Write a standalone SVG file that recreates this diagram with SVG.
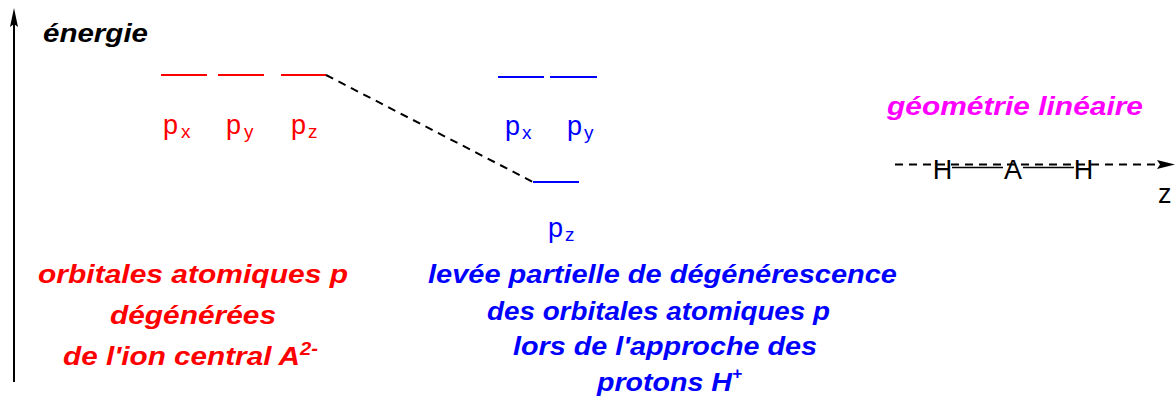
<svg xmlns="http://www.w3.org/2000/svg" width="1176" height="398" viewBox="0 0 1176 398">
<style>
.b{font-family:"Liberation Sans",Arial,sans-serif;font-weight:bold;font-style:italic;font-size:26.5px}
.r{font-family:"Liberation Sans",Arial,sans-serif;font-size:27px}
.red{fill:#ff0000}
.blue{fill:#0000ff}
.lvlR{stroke:#ff0000;stroke-width:2}
.lvlB{stroke:#0000ff;stroke-width:2}
.dash{stroke:#000;stroke-width:2;stroke-dasharray:8 6;fill:none}
</style>
<rect width="1176" height="398" fill="#fff"/>
<g id="axis">
<line x1="14" y1="382" x2="14" y2="22" stroke="#000" stroke-width="2"/>
<polygon points="14,8 10,27 14,24 18,27" fill="#000"/>
<text class="b" x="43" y="42" textLength="105" lengthAdjust="spacingAndGlyphs" fill="#000">énergie</text>
</g>
<g id="levels-A">
<line class="lvlR" x1="161" y1="75" x2="207" y2="75"/>
<line class="lvlR" x1="218" y1="75" x2="264" y2="75"/>
<line class="lvlR" x1="281" y1="75" x2="326" y2="75"/>
<text class="r red" x="163" y="134">p<tspan x="181" y="138" font-size="19">x</tspan></text>
<text class="r red" x="226" y="134">p<tspan x="244" y="138" font-size="19">y</tspan></text>
<text class="r red" x="291" y="134">p<tspan x="308" y="138" font-size="19">z</tspan></text>
</g>
<g id="levels-AH2">
<line class="lvlB" x1="498" y1="77" x2="544" y2="77"/>
<line class="lvlB" x1="550" y1="77" x2="597" y2="77"/>
<line class="lvlB" x1="533" y1="182" x2="579" y2="182"/>
<text class="r blue" x="505" y="135">p<tspan x="522" y="139" font-size="19">x</tspan></text>
<text class="r blue" x="567" y="135">p<tspan x="584" y="139" font-size="19">y</tspan></text>
<text class="r blue" x="548" y="237">p<tspan x="565" y="241" font-size="19">z</tspan></text>
</g>
<g id="connectors">
<line class="dash" x1="326" y1="75" x2="533" y2="182"/>
</g>
<g id="geometry">
<text class="b" x="887" y="115" textLength="256" lengthAdjust="spacingAndGlyphs" fill="#ff00ff">géométrie linéaire</text>
<line class="dash" x1="895" y1="164.5" x2="1162" y2="164.5" stroke-dasharray="6 6"/>
<polygon points="1175,164.5 1157,160 1160,164.5 1157,169" fill="#000"/>
<line x1="952" y1="167.5" x2="1003" y2="167.5" stroke="#000" stroke-width="1.5"/>
<line x1="1023" y1="167.5" x2="1074" y2="167.5" stroke="#000" stroke-width="1.5"/>
<text class="r" x="942.5" y="179" text-anchor="middle" fill="#000">H</text>
<text class="r" x="1013" y="179" text-anchor="middle" fill="#000">A</text>
<text class="r" x="1083.5" y="179" text-anchor="middle" fill="#000">H</text>
<text class="r" x="1158" y="203" font-size="26" fill="#000">z</text>
</g>
<g id="caption-A">
<text class="b red" x="38" y="283" textLength="310" lengthAdjust="spacingAndGlyphs">orbitales atomiques p</text>
<text class="b red" x="110" y="324" textLength="166" lengthAdjust="spacingAndGlyphs">dégénérées</text>
<text class="b red" x="63" y="365" textLength="255" lengthAdjust="spacingAndGlyphs">de l'ion central A<tspan dy="-10" font-size="18px">2-</tspan></text>
</g>
<g id="caption-AH2">
<text class="b blue" x="428" y="283" textLength="469" lengthAdjust="spacingAndGlyphs">levée partielle de dégénérescence</text>
<text class="b blue" x="487" y="320" textLength="343" lengthAdjust="spacingAndGlyphs">des orbitales atomiques p</text>
<text class="b blue" x="513" y="355" textLength="304" lengthAdjust="spacingAndGlyphs">lors de l'approche des</text>
<text class="b blue" x="597" y="391" textLength="145" lengthAdjust="spacingAndGlyphs">protons H<tspan dy="-12" font-size="16px">+</tspan></text>
</g>
</svg>
